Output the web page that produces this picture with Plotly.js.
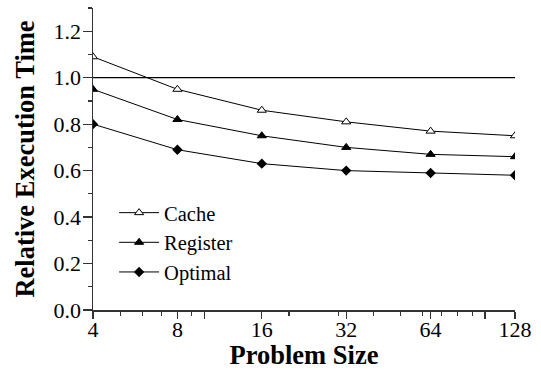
<!DOCTYPE html>
<html>
<head>
<meta charset="utf-8">
<script src="https://cdn.plot.ly/plotly-3.0.1.min.js"></script>
<style>
  html, body { margin: 0; padding: 0; background: #fff; }
  #chart { width: 541px; height: 370px; }
</style>
</head>
<body>
<div id="chart"></div>
<script>
// Problem sizes (log2-spaced x axis)
const problemSizes = [4, 8, 16, 32, 64, 128];

// Relative execution time for each strategy
const cacheTimes    = [1.09, 0.95, 0.86, 0.81, 0.77, 0.75];
const registerTimes = [0.95, 0.82, 0.75, 0.70, 0.67, 0.66];
const optimalTimes  = [0.80, 0.69, 0.63, 0.60, 0.59, 0.58];

// Baseline reference at 1.0
const baselineX = [4, 128];
const baselineY = [1.0, 1.0];

// Axis ticks
const xTickVals = [4, 8, 10, 16, 32, 64, 100, 128];
const xTickText = ['4', '8', '', '16', '32', '64', '', '128'];
const xMinorVals = [5, 6, 7, 9, 20, 30, 40, 50, 60, 70, 80, 90];
const yTickVals = [0, 0.2, 0.4, 0.6, 0.8, 1.0, 1.2];
const yTickText = ['0.0', '0.2', '0.4', '0.6', '0.8', '1.0', '1.2'];

const serif = "'Liberation Serif', 'Times New Roman', serif";
const lineStyle = { color: '#000', width: 1 };

const traces = [
  {
    x: baselineX, y: baselineY, mode: 'lines',
    line: { color: '#000', width: 1.2 }, showlegend: false, hoverinfo: 'skip'
  },
  {
    name: 'Cache', x: problemSizes, y: cacheTimes, mode: 'lines+markers',
    line: lineStyle,
    marker: { symbol: 'triangle-up', size: 8, color: '#fff', line: { color: '#000', width: 1 } }
  },
  {
    name: 'Register', x: problemSizes, y: registerTimes, mode: 'lines+markers',
    line: lineStyle,
    marker: { symbol: 'triangle-up', size: 8, color: '#000', line: { color: '#000', width: 1 } }
  },
  {
    name: 'Optimal', x: problemSizes, y: optimalTimes, mode: 'lines+markers',
    line: lineStyle,
    marker: { symbol: 'diamond', size: 8, color: '#000', line: { color: '#000', width: 0 } }
  }
];

const layout = {
  width: 541, height: 370,
  margin: { l: 93, r: 26, t: 8, b: 60 },
  paper_bgcolor: '#fff', plot_bgcolor: '#fff',
  font: { family: serif, size: 22, color: '#000' },
  showlegend: true,
  legend: {
    x: 0.05, y: 0.388, xanchor: 'left', yanchor: 'top',
    bgcolor: 'rgba(0,0,0,0)', borderwidth: 0,
    font: { family: serif, size: 20.5, color: '#000' },
    itemwidth: 40,
    tracegroupgap: 0
  },
  xaxis: {
    type: 'log',
    range: [Math.log10(4), Math.log10(128)],
    tickmode: 'array', tickvals: xTickVals, ticktext: xTickText,
    ticks: 'outside', ticklen: 7, tickwidth: 1.2, tickcolor: '#333',
    ticklabelstandoff: -8,
    showline: true, linecolor: '#333', linewidth: 1.5,
    showgrid: false, zeroline: false,
    tickfont: { family: serif, size: 22, color: '#000' },
    minor: { tickmode: 'array', tickvals: xMinorVals, ticks: 'outside', ticklen: 4, tickwidth: 1.2, tickcolor: '#333', showgrid: false },
    title: { text: '<b>Problem Size</b>', font: { family: serif, size: 26.5, color: '#000' }, standoff: 10 }
  },
  yaxis: {
    range: [0, 1.3],
    tickmode: 'array', tickvals: yTickVals, ticktext: yTickText,
    ticks: 'outside', ticklen: 9, tickwidth: 1.2, tickcolor: '#333',
    ticklabelstandoff: -3,
    showline: true, linecolor: '#333', linewidth: 1.5,
    showgrid: false, zeroline: false,
    tickfont: { family: serif, size: 22, color: '#000' },
    minor: { tickmode: 'linear', tick0: 0.1, dtick: 0.2, ticks: 'outside', ticklen: 4, tickwidth: 1.2, tickcolor: '#333', showgrid: false },
    title: { text: '<b>Relative Execution Time</b>', font: { family: serif, size: 26.5, color: '#000' }, standoff: 11 }
  }
};

Plotly.newPlot('chart', traces, layout, { displayModeBar: false, staticPlot: true });
</script>
</body>
</html>
